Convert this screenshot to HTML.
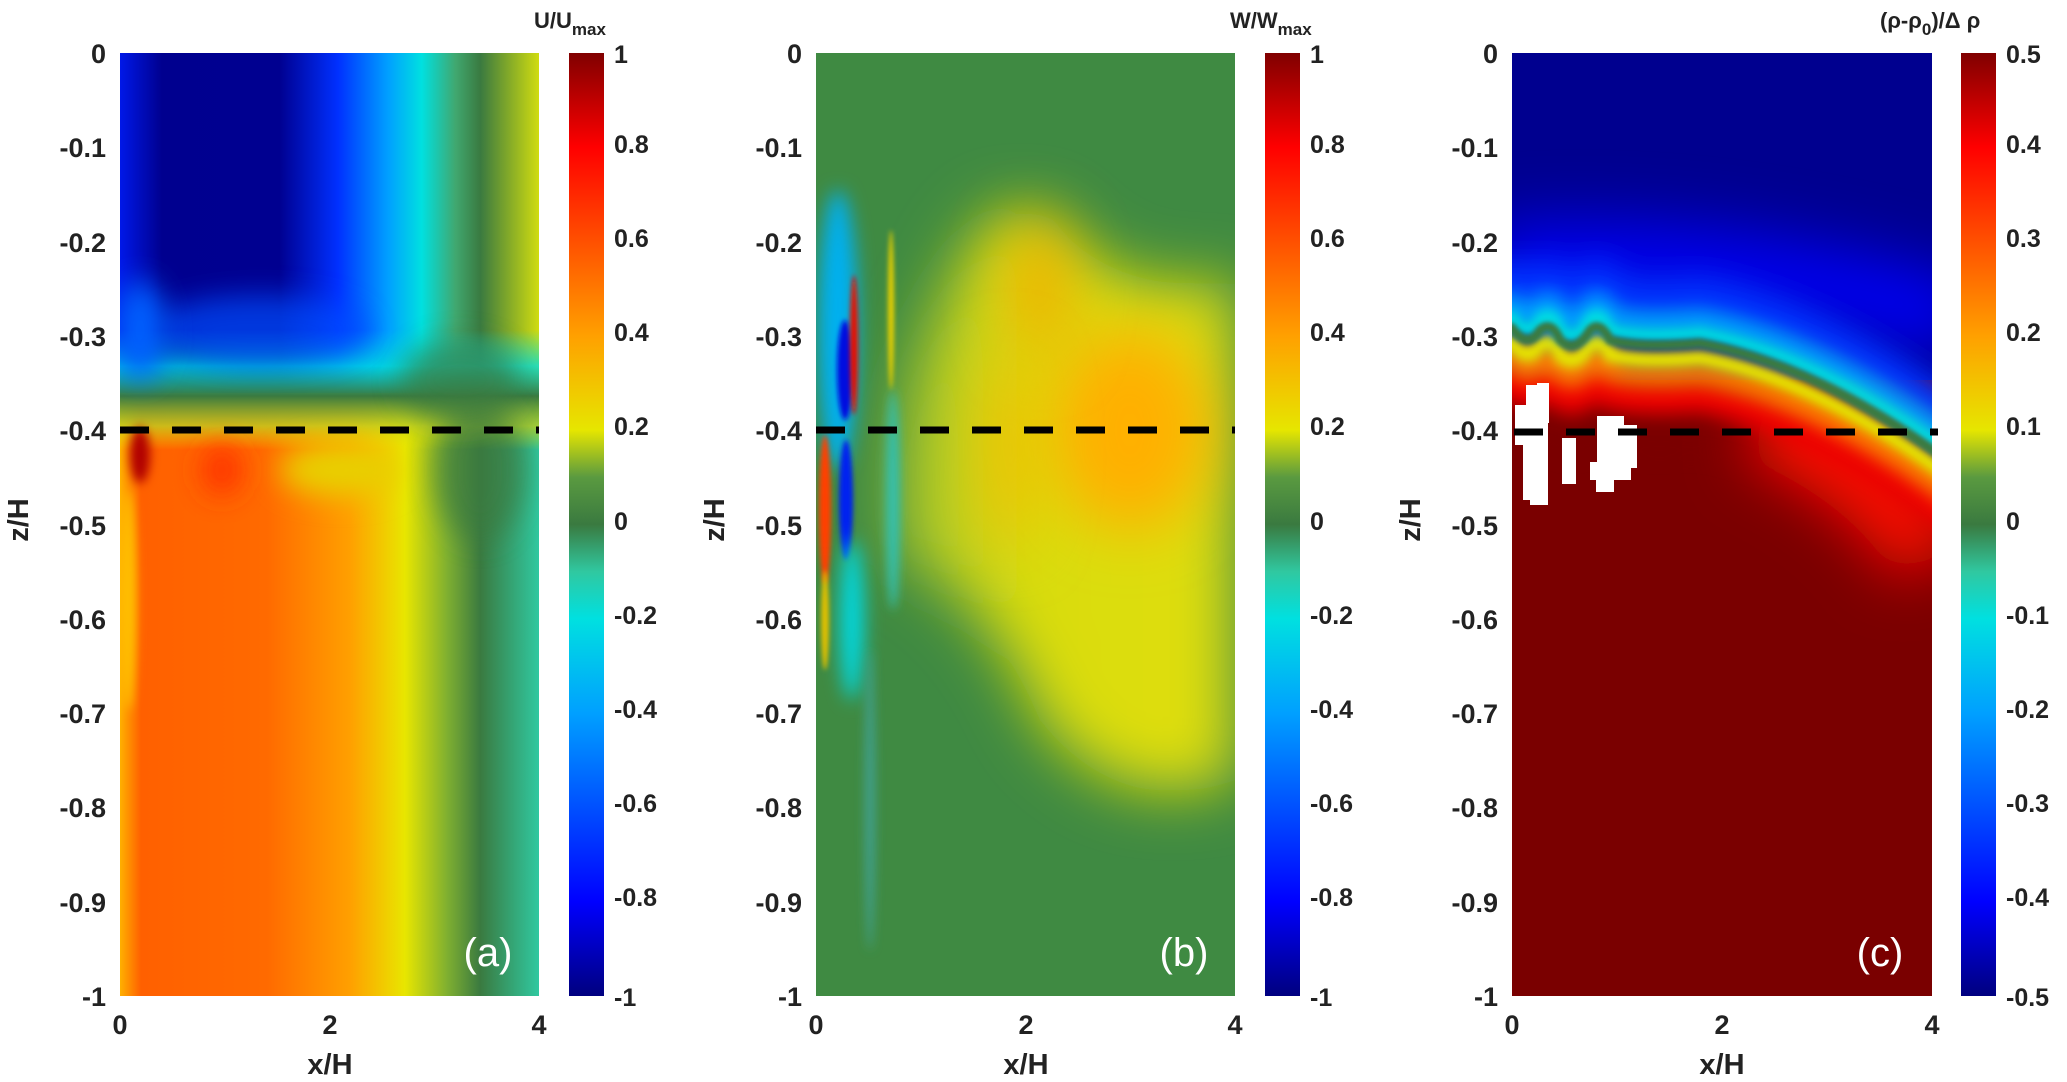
<!DOCTYPE html>
<html><head><meta charset="utf-8"><style>
html,body{margin:0;padding:0;background:#fff;}
svg{display:block;}
text{font-family:"Liberation Sans",sans-serif;font-weight:bold;fill:#222;}
</style></head><body>
<svg width="2067" height="1082" viewBox="0 0 2067 1082" xmlns="http://www.w3.org/2000/svg">
<defs>
<linearGradient id="cb" x1="0" y1="1" x2="0" y2="0">
<stop offset="0" stop-color="#00007f"/><stop offset="0.1" stop-color="#0000ff"/>
<stop offset="0.3" stop-color="#00a0ff"/><stop offset="0.4" stop-color="#00e0e0"/>
<stop offset="0.45" stop-color="#30c8a0"/><stop offset="0.5" stop-color="#3a7a40"/>
<stop offset="0.55" stop-color="#5a9a40"/><stop offset="0.6" stop-color="#e6e600"/>
<stop offset="0.7" stop-color="#ffa000"/><stop offset="0.8" stop-color="#ff5000"/>
<stop offset="0.9" stop-color="#ff0000"/><stop offset="1" stop-color="#800000"/>
</linearGradient>
<linearGradient id="aTop" x1="0" y1="0" x2="1" y2="0">
<stop offset="0" stop-color="#0018e8"/><stop offset="0.1" stop-color="#00008f"/>
<stop offset="0.38" stop-color="#000090"/><stop offset="0.52" stop-color="#0030ff"/>
<stop offset="0.64" stop-color="#00a0ff"/><stop offset="0.72" stop-color="#00e0e0"/>
<stop offset="0.8" stop-color="#40a870"/><stop offset="0.86" stop-color="#3a7a40"/>
<stop offset="1" stop-color="#d0dc10"/>
</linearGradient>
<linearGradient id="aBot" x1="0" y1="0" x2="1" y2="0">
<stop offset="0" stop-color="#ffb000"/><stop offset="0.05" stop-color="#ff6000"/>
<stop offset="0.35" stop-color="#ff6a00"/><stop offset="0.55" stop-color="#ffa000"/>
<stop offset="0.68" stop-color="#e8e600"/><stop offset="0.78" stop-color="#80b030"/>
<stop offset="0.86" stop-color="#3a7a40"/><stop offset="1" stop-color="#30c8a0"/>
</linearGradient>
<linearGradient id="aBand" x1="0" y1="0" x2="0" y2="1">
<stop offset="0" stop-color="#00e0e0" stop-opacity="0"/><stop offset="0.3" stop-color="#00e0e0" stop-opacity="0.8"/>
<stop offset="0.55" stop-color="#3a7a40"/><stop offset="0.8" stop-color="#c0d020" stop-opacity="0.8"/>
<stop offset="1" stop-color="#e8e600" stop-opacity="0"/>
</linearGradient>
<linearGradient id="bYel" x1="0" y1="0" x2="1" y2="0">
<stop offset="0" stop-color="#9cc030"/><stop offset="0.35" stop-color="#d8dc10"/>
<stop offset="1" stop-color="#e0de10"/>
</linearGradient>
<filter id="bl" filterUnits="userSpaceOnUse" x="0" y="0" width="2067" height="1082"><feGaussianBlur stdDeviation="14"/></filter>
<filter id="bl2" filterUnits="userSpaceOnUse" x="0" y="0" width="2067" height="1082"><feGaussianBlur stdDeviation="5"/></filter>
<filter id="bl1" filterUnits="userSpaceOnUse" x="0" y="0" width="2067" height="1082"><feGaussianBlur stdDeviation="2.5"/></filter>
<filter id="bl3" filterUnits="userSpaceOnUse" x="0" y="0" width="2067" height="1082"><feGaussianBlur stdDeviation="30"/></filter>
<filter id="bl4" filterUnits="userSpaceOnUse" x="0" y="0" width="2067" height="1082"><feGaussianBlur stdDeviation="9"/></filter>
<clipPath id="ca"><rect x="120" y="53" width="419" height="943"/></clipPath>
<clipPath id="cbp"><rect x="816" y="53" width="419" height="943"/></clipPath>
<clipPath id="cc"><rect x="1512" y="53" width="420" height="943"/></clipPath>
<path id="cv" d="M1490 325 L1512 328 Q1528 350 1540 330 Q1552 320 1560 340 Q1575 355 1590 330 Q1600 320 1610 340 Q1640 348 1700 343 Q1820 365 1960 470"/>
</defs>

<!-- Panel A -->
<g clip-path="url(#ca)">
<rect x="120" y="53" width="419" height="943" fill="url(#aBot)"/>
<rect x="120" y="53" width="419" height="340" fill="url(#aTop)"/>
<rect x="120" y="330" width="419" height="120" fill="url(#aBand)"/>
<ellipse cx="260" cy="330" rx="110" ry="35" fill="#0050ff" opacity="0.7" filter="url(#bl)"/>
<ellipse cx="480" cy="470" rx="45" ry="70" fill="#3a7a40" opacity="0.7" filter="url(#bl)"/>
<ellipse cx="460" cy="380" rx="60" ry="40" fill="#3a7a40" opacity="0.7" filter="url(#bl)"/>
<ellipse cx="140" cy="330" rx="25" ry="50" fill="#0060ff" filter="url(#bl)"/>
<ellipse cx="140" cy="455" rx="10" ry="28" fill="#b00000" filter="url(#bl2)"/>
<ellipse cx="128" cy="600" rx="8" ry="110" fill="#ffc000" filter="url(#bl2)"/>
<ellipse cx="222" cy="470" rx="20" ry="25" fill="#ff3000" filter="url(#bl)"/>
<ellipse cx="340" cy="470" rx="60" ry="25" fill="#e8d000" filter="url(#bl)"/>
</g>
<rect x="569" y="53" width="35" height="943" fill="url(#cb)"/>

<!-- Panel B -->
<g clip-path="url(#cbp)">
<rect x="816" y="53" width="419" height="943" fill="#3f8a42"/>
<path d="M940 300 Q990 180 1050 220 Q1120 300 1235 280 L1235 780 Q1120 820 1040 720 Q990 600 900 560 Q880 420 940 300 Z" fill="url(#bYel)" filter="url(#bl3)"/>
<ellipse cx="1130" cy="430" rx="80" ry="100" fill="#ffb000" filter="url(#bl3)"/>
<ellipse cx="1040" cy="290" rx="30" ry="70" fill="#f0b000" filter="url(#bl3)"/>
<ellipse cx="1010" cy="450" rx="25" ry="100" fill="#f0c000" filter="url(#bl3)"/>
<ellipse cx="838" cy="330" rx="20" ry="140" fill="#00b0f0" filter="url(#bl4)"/>
<ellipse cx="845" cy="370" rx="8" ry="50" fill="#0010e0" filter="url(#bl1)"/>
<ellipse cx="846" cy="500" rx="7" ry="60" fill="#0020f0" filter="url(#bl1)"/>
<ellipse cx="852" cy="620" rx="12" ry="80" fill="#00d8e0" filter="url(#bl4)"/>
<ellipse cx="825" cy="510" rx="6" ry="75" fill="#ff4000" filter="url(#bl1)"/>
<ellipse cx="825" cy="620" rx="4" ry="50" fill="#e0c000" filter="url(#bl1)"/>
<ellipse cx="854" cy="345" rx="4" ry="70" fill="#e81000" filter="url(#bl1)"/>
<ellipse cx="891" cy="310" rx="3" ry="80" fill="#e8d000" filter="url(#bl1)"/>
<ellipse cx="893" cy="500" rx="7" ry="110" fill="#30c0b0" filter="url(#bl2)"/>
<ellipse cx="870" cy="800" rx="5" ry="150" fill="#40a090" filter="url(#bl2)"/>
</g>
<rect x="1265" y="53" width="35" height="943" fill="url(#cb)"/>

<!-- Panel C -->
<g clip-path="url(#cc)">
<rect x="1512" y="53" width="420" height="943" fill="#00008f"/>
<rect x="1512" y="380" width="420" height="620" fill="#7a0000"/>
<path d="M1490 265 Q1700 245 1960 320" stroke="#0000f0" stroke-width="80" fill="none" filter="url(#bl3)"/>
<use href="#cv" transform="translate(0,-45)" stroke="#0030ff" stroke-width="45" fill="none" filter="url(#bl)"/>
<use href="#cv" transform="translate(0,80)" stroke="#7a0000" stroke-width="60" fill="none" filter="url(#bl4)"/>
<path d="M1760 420 Q1880 470 1932 560" stroke="#ff1000" stroke-width="80" fill="none" filter="url(#bl3)"/>
<use href="#cv" transform="translate(0,52)" stroke="#ee0000" stroke-width="34" fill="none" filter="url(#bl4)"/>
<use href="#cv" transform="translate(0,30)" stroke="#ff8000" stroke-width="24" fill="none" filter="url(#bl4)"/>
<use href="#cv" transform="translate(0,15)" stroke="#e8e600" stroke-width="16" fill="none" filter="url(#bl2)"/>
<use href="#cv" transform="translate(0,-22)" stroke="#00a0ff" stroke-width="26" fill="none" filter="url(#bl4)"/>
<use href="#cv" transform="translate(0,-10)" stroke="#00e0e0" stroke-width="14" fill="none" filter="url(#bl2)"/>
<use href="#cv" stroke="#3a7a40" stroke-width="9" fill="none" filter="url(#bl1)"/>
<rect x="1526" y="385" width="23" height="36" fill="#fff"/>
<rect x="1537" y="383" width="12" height="40" fill="#fff"/>
<rect x="1515" y="405" width="30" height="40" fill="#fff"/>
<rect x="1530" y="405" width="18" height="100" fill="#fff"/>
<rect x="1523" y="440" width="14" height="60" fill="#fff"/>
<rect x="1562" y="438" width="14" height="46" fill="#fff"/>
<path d="M1597 416 L1624 416 L1624 425 L1637 425 L1637 468 L1631 468 L1631 480 L1614 480 L1614 492 L1596 492 L1596 480 L1590 480 L1590 462 L1597 462 Z" fill="#fff"/>
</g>
<rect x="1961" y="53" width="35" height="943" fill="url(#cb)"/>

<!-- dashed lines -->
<g stroke="#000" stroke-width="7" stroke-dasharray="29 23">
<line x1="120" y1="430" x2="539" y2="430"/>
<line x1="816" y1="430" x2="1235" y2="430"/>
<line x1="1514" y1="432" x2="1938" y2="432"/>
</g>

<!-- panel labels -->
<text x="488" y="966" font-size="40" style="font-weight:normal;fill:#fff" text-anchor="middle">(a)</text>
<text x="1184" y="966" font-size="40" style="font-weight:normal;fill:#fff" text-anchor="middle">(b)</text>
<text x="1880" y="966" font-size="40" style="font-weight:normal;fill:#fff" text-anchor="middle">(c)</text>

<!-- y tick labels -->
<g font-size="27" text-anchor="end">
<text x="106" y="63">0</text><text x="106" y="157">-0.1</text><text x="106" y="252">-0.2</text>
<text x="106" y="346">-0.3</text><text x="106" y="440">-0.4</text><text x="106" y="535">-0.5</text>
<text x="106" y="629">-0.6</text><text x="106" y="723">-0.7</text><text x="106" y="817">-0.8</text>
<text x="106" y="912">-0.9</text><text x="106" y="1006">-1</text>
<text x="802" y="63">0</text><text x="802" y="157">-0.1</text><text x="802" y="252">-0.2</text>
<text x="802" y="346">-0.3</text><text x="802" y="440">-0.4</text><text x="802" y="535">-0.5</text>
<text x="802" y="629">-0.6</text><text x="802" y="723">-0.7</text><text x="802" y="817">-0.8</text>
<text x="802" y="912">-0.9</text><text x="802" y="1006">-1</text>
<text x="1498" y="63">0</text><text x="1498" y="157">-0.1</text><text x="1498" y="252">-0.2</text>
<text x="1498" y="346">-0.3</text><text x="1498" y="440">-0.4</text><text x="1498" y="535">-0.5</text>
<text x="1498" y="629">-0.6</text><text x="1498" y="723">-0.7</text><text x="1498" y="817">-0.8</text>
<text x="1498" y="912">-0.9</text><text x="1498" y="1006">-1</text>
</g>
<g font-size="29">
<text transform="translate(28,520) rotate(-90)" text-anchor="middle">z/H</text>
<text transform="translate(724,520) rotate(-90)" text-anchor="middle">z/H</text>
<text transform="translate(1420,520) rotate(-90)" text-anchor="middle">z/H</text>
</g>
<!-- x ticks -->
<g font-size="27" text-anchor="middle">
<text x="120" y="1034">0</text><text x="330" y="1034">2</text><text x="539" y="1034">4</text>
<text x="816" y="1034">0</text><text x="1026" y="1034">2</text><text x="1235" y="1034">4</text>
<text x="1512" y="1034">0</text><text x="1722" y="1034">2</text><text x="1932" y="1034">4</text>
<text x="330" y="1074" font-size="29">x/H</text><text x="1026" y="1074" font-size="29">x/H</text><text x="1722" y="1074" font-size="29">x/H</text>
</g>
<!-- colorbar labels -->
<g font-size="25">
<text x="614" y="63">1</text><text x="614" y="153">0.8</text><text x="614" y="247">0.6</text>
<text x="614" y="341">0.4</text><text x="614" y="435">0.2</text><text x="614" y="530">0</text>
<text x="614" y="624">-0.2</text><text x="614" y="718">-0.4</text><text x="614" y="812">-0.6</text>
<text x="614" y="906">-0.8</text><text x="614" y="1006">-1</text>
<text x="1310" y="63">1</text><text x="1310" y="153">0.8</text><text x="1310" y="247">0.6</text>
<text x="1310" y="341">0.4</text><text x="1310" y="435">0.2</text><text x="1310" y="530">0</text>
<text x="1310" y="624">-0.2</text><text x="1310" y="718">-0.4</text><text x="1310" y="812">-0.6</text>
<text x="1310" y="906">-0.8</text><text x="1310" y="1006">-1</text>
<text x="2006" y="63">0.5</text><text x="2006" y="153">0.4</text><text x="2006" y="247">0.3</text>
<text x="2006" y="341">0.2</text><text x="2006" y="435">0.1</text><text x="2006" y="530">0</text>
<text x="2006" y="624">-0.1</text><text x="2006" y="718">-0.2</text><text x="2006" y="812">-0.3</text>
<text x="2006" y="906">-0.4</text><text x="2006" y="1006">-0.5</text>
</g>
<g font-size="22">
<text x="534" y="28">U/U<tspan font-size="17" dy="7">max</tspan></text>
<text x="1230" y="28">W/W<tspan font-size="17" dy="7">max</tspan></text>
<text x="1880" y="28">(ρ-ρ<tspan font-size="17" dy="7">0</tspan><tspan dy="-7">)/Δ ρ</tspan></text>
</g>
</svg>
</body></html>
